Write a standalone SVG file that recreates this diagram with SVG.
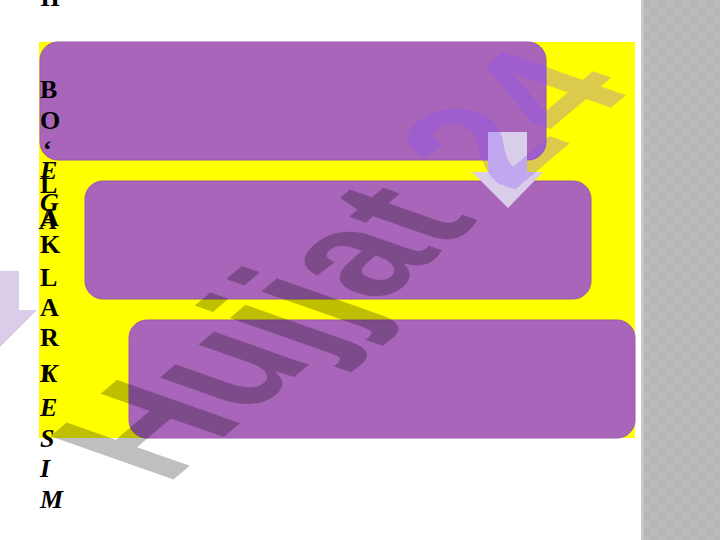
<svg xmlns="http://www.w3.org/2000/svg" width="720" height="540" viewBox="0 0 720 540">
<style>
.box{fill:#a865b9;stroke:#9a58ab;stroke-width:1}
.arrow{fill:#d9cdea}
.up{font-family:"Liberation Serif","Times New Roman",serif;font-weight:bold;font-size:26px;fill:#000}
.it{font-family:"Liberation Serif","Times New Roman",serif;font-weight:bold;font-style:italic;font-size:26px;fill:#000}
.wm{font-family:"Liberation Sans",Arial,sans-serif;font-weight:bold;font-size:100px}
</style>
<defs>
<pattern id="chk" x="641" y="0" width="16" height="16" patternUnits="userSpaceOnUse">
<rect width="16" height="16" fill="#bbbbbb"/>
<rect width="8" height="8" fill="#b6b6b6"/>
<rect x="8" y="8" width="8" height="8" fill="#b6b6b6"/>
</pattern>
</defs>
<rect width="720" height="540" fill="#ffffff"/>
<rect x="641" y="0" width="79" height="540" fill="url(#chk)"/>
<rect x="641" y="0" width="3" height="540" fill="#c8c8c8"/>
<rect x="39" y="42" width="596" height="396" fill="#ffff00"/>
<g id="box1"><rect class="box" x="40" y="42" width="506" height="118" rx="18"/></g>
<g id="box2"><rect class="box" x="85" y="181" width="506" height="118" rx="18"/></g>
<g id="box3"><rect class="box" x="129" y="320" width="506" height="118" rx="18"/></g>
<g id="connectors">
<path class="arrow" d="M488 132 H527 V172 H543 L508 208 L472 172 H488 Z"/>
<path class="arrow" d="M-19 271 H19 V310 H37 L0 347 L-37 310 H-19 Z"/>
</g>
<g id="title">
<text class="up" x="40" y="6">II</text>
<text class="up" x="40" y="98">B</text>
<text class="up" x="40" y="129">O</text>
<text class="up" x="43" y="158">‘</text>
<text class="up" x="40" y="193">L</text>
<text class="up" x="40" y="226">A</text>
<text class="up" x="40" y="253">K</text>
<text class="up" x="40" y="286">L</text>
<text class="up" x="40" y="316">A</text>
<text class="up" x="40" y="346">R</text>
<text class="up" x="40" y="382">I</text>
<text class="it" x="40" y="179">E</text>
<text class="it" x="40" y="211">G</text>
<text class="it" x="40" y="229">A</text>
<text class="it" x="40" y="382">K</text>
<text class="it" x="40" y="416">E</text>
<text class="it" x="40" y="447">S</text>
<text class="it" x="40" y="477">I</text>
<text class="it" x="40" y="508">M</text>
</g>
<text class="wm" transform="matrix(1.13 -0.96 1.79 0.63 166 486)"><tspan fill="#000000" fill-opacity="0.25">Hujjat </tspan><tspan fill="#8c50ff" fill-opacity="0.3">24</tspan></text>
</svg>
